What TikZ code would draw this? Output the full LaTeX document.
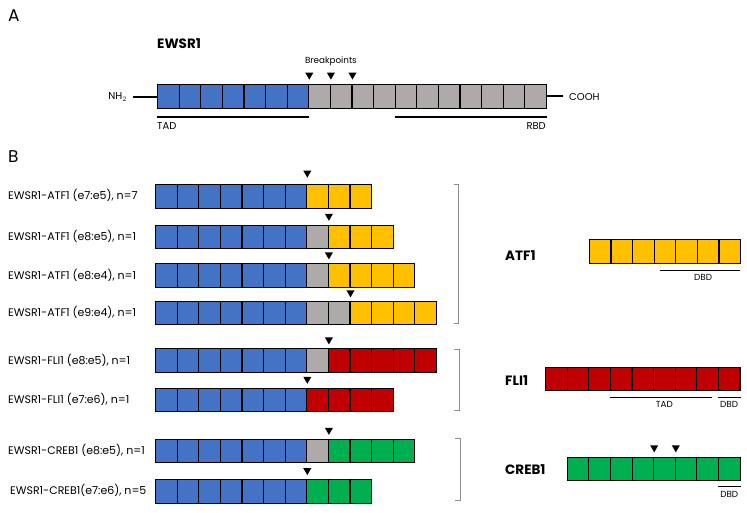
\documentclass[tikz,border=0pt]{standalone}
\usepackage{fontspec}
\setmainfont{Poppins}
\usetikzlibrary{positioning, shapes.geometric}

\definecolor{exblue}{HTML}{4472C4}
\definecolor{exgray}{HTML}{AEAAAA}
\definecolor{exyellow}{HTML}{FFC000}
\definecolor{exred}{HTML}{C00000}
\definecolor{exgreen}{HTML}{00B050}

% name, x, y (top), colour/first/last
\newcommand\exonbar[4]{%
  \foreach \c/\a/\b in {#4}
    \foreach \i in {\a,...,\b}
      \node[exon, fill=\c] (#1-\i) at ({#2+(\i-1)*21.6}, #3) {};}

\begin{document}
\begin{tikzpicture}[
      x=1pt, y=-1pt,
      exon/.style={draw, line width=1.1pt, minimum width=21.6pt, minimum height=23.5pt,
                   inner sep=0pt, anchor=north west},
      bp/.style={regular polygon, regular polygon sides=3, shape border rotate=180,
                 fill=black, inner sep=0pt, minimum size=9.4pt},
      panel/.style={font=\fontsize{17}{20}\selectfont, anchor=west, inner sep=0pt},
      gene/.style={font=\fontsize{13.5}{16}\selectfont\bfseries, anchor=west, inner sep=0pt},
      fusion/.style={font=\fontsize{11}{13}\selectfont, anchor=west, inner sep=0pt},
      small/.style={font=\fontsize{8.8}{10}\selectfont, inner sep=0pt},
      dom/.style={line width=2pt},
      domthin/.style={line width=0.8pt},
      brace/.style={draw=black!45, line width=0.9pt}
    ]
    \useasboundingbox (0,0) rectangle (747,512);

    \node[panel] (pa) at (8,15.5) {A};
    \node[gene, font=\fontsize{13.5}{16}\selectfont\bfseries] (ewsname) at (157,44) {EWSR1};
    \exonbar{ews}{157}{84}{exblue/1/7, exgray/8/18}
    \node[bp, above=4pt of ews-7.north east] (bpa) {};
    \node[bp, above=4pt of ews-8.north east] (bpb) {};
    \node[bp, above=4pt of ews-9.north east] (bpc) {};
    \node[small, above=6pt of bpb] (bptext) {Breakpoints};
    \node[small, anchor=east, font=\fontsize{10}{11}\selectfont] (nh) at (127,97) {NH$_2$};
    \node[small, anchor=west, font=\fontsize{10}{11}\selectfont] (cooh) at (569,97) {COOH};
    \draw[dom] (nh.east) ++(6,0) coordinate (nhend) -- (nhend -| ews-1.west);
    \draw[dom] (ews-18.east) -- ([xshift=-6pt]ews-18.east -| cooh.west);
    \draw[dom] ([yshift=-8pt]ews-1.south west) -- ([yshift=-8pt]ews-7.south east);
    \draw[dom] ([yshift=-8pt]ews-12.south west) -- ([yshift=-8pt]ews-18.south east);
    \node[small, anchor=north west, font=\fontsize{10}{11}\selectfont] (tada) at (157,122) {TAD};
    \node[small, anchor=north east, font=\fontsize{10}{11}\selectfont] (rbd) at (546,122) {RBD};

    \node[panel] (pb) at (8,157) {B};
    \exonbar{atfa}{155}{184}{exblue/1/7, exyellow/8/10}
    \exonbar{atfb}{155}{224.7}{exblue/1/7, exgray/8/8, exyellow/9/11}
    \exonbar{atfc}{155}{263.3}{exblue/1/7, exgray/8/8, exyellow/9/12}
    \exonbar{atfd}{155}{300.7}{exblue/1/7, exgray/8/9, exyellow/10/13}
    \exonbar{flia}{155}{348.3}{exblue/1/7, exgray/8/8, exred/9/13}
    \exonbar{flib}{155}{387.7}{exblue/1/7, exred/8/11}
    \exonbar{creba}{155}{438.7}{exblue/1/7, exgray/8/8, exgreen/9/12}
    \exonbar{crebb}{155}{479}{exblue/1/7, exgreen/8/10}

    \node[bp, above=6pt of atfa-7.north east] (bp1) {};
    \node[bp, above=3.5pt of atfb-8.north east] (bp2) {};
    \node[bp, above=3.5pt of atfc-8.north east] (bp3) {};
    \node[bp, above=3pt of atfd-9.north east] (bp4) {};
    \node[bp, above=3.5pt of flia-8.north east] (bp5) {};
    \node[bp, above=3.5pt of flib-7.north east] (bp6) {};
    \node[bp, above=3.5pt of creba-8.north east] (bp7) {};
    \node[bp, above=3.5pt of crebb-7.north east] (bp8) {};

    \node[fusion] (la) at (8,195.8) {EWSR1-ATF1 (e7:e5), n=7};
    \node[fusion] (lb) at (8,236.4) {EWSR1-ATF1 (e8:e5), n=1};
    \node[fusion] (lc) at (8,275) {EWSR1-ATF1 (e8:e4), n=1};
    \node[fusion] (ld) at (8,312.4) {EWSR1-ATF1 (e9:e4), n=1};
    \node[fusion] (le) at (8,360) {EWSR1-FLI1 (e8:e5), n=1};
    \node[fusion] (lf) at (8,399.4) {EWSR1-FLI1 (e7:e6), n=1};
    \node[fusion] (lg) at (8,450.4) {EWSR1-CREB1 (e8:e5), n=1};
    \node[fusion] (lh) at (10,490.7) {EWSR1-CREB1(e7:e6), n=5};

    \draw[brace] (454,184) -- (458,184) -- (458,323) -- (454,323);
    \draw[brace] (454,349) -- (459,349) -- (459,410.5) -- (454,410.5);
    \draw[brace] (455,438.7) -- (460,438.7) -- (460,500.7) -- (455,500.7);

    \node[gene] (atfname) at (505,256) {ATF1};
    \exonbar{atf}{588.8}{239.3}{exyellow/1/7}
    \draw[domthin] ([xshift=6pt,yshift=-6pt]atf-4.south west) -- ([xshift=-1pt,yshift=-6pt]atf-7.south east) coordinate (atfdbd);
    \node[small, below=4pt of atfdbd, xshift=-37pt] (dbda) {DBD};

    \node[gene] (fliname) at (505,380.7) {FLI1};
    \exonbar{fli}{545}{366.7}{exred/1/9}
    \draw[domthin] ([yshift=-6pt]fli-4.south west) -- ([xshift=-7pt,yshift=-6pt]fli-8.south east) coordinate (flitad);
    \draw[domthin] ([yshift=-6pt]fli-9.south west) -- ([yshift=-6pt]fli-9.south east) coordinate (flidbd);
    \node[small, anchor=north] (tadb) at ([yshift=-10pt]fli-6.south) {TAD};
    \node[small, anchor=north] (dbdb) at ([yshift=-10pt]fli-9.south) {DBD};

    \node[gene] (crebname) at (505,469.3) {CREB1};
    \exonbar{creb}{566.7}{456.7}{exgreen/1/8}
    \node[bp, above=4pt of creb-4.north east] (bpd) {};
    \node[bp, above=4pt of creb-5.north east] (bpe) {};
    \draw[domthin] ([yshift=-5.5pt]creb-8.south west) -- ([yshift=-5.5pt]creb-8.south east);
    \node[small, anchor=north] (dbdc) at ([yshift=-10pt]creb-8.south) {DBD};
  \end{tikzpicture}
\end{document}
